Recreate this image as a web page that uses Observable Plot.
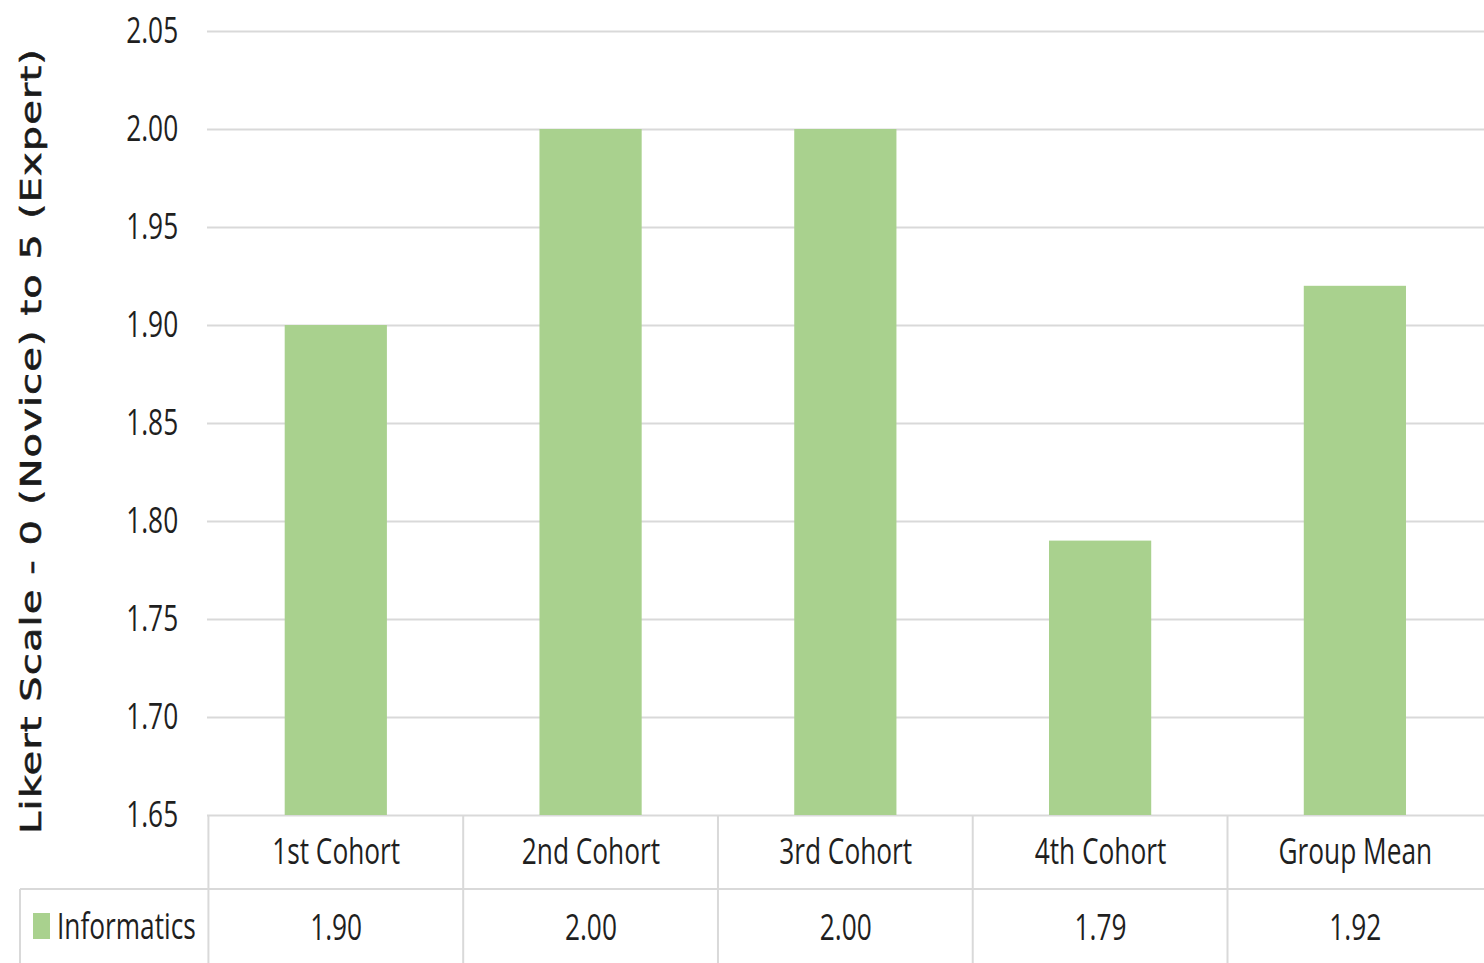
<!DOCTYPE html>
<html><head><meta charset="utf-8">
<script src="https://cdn.jsdelivr.net/npm/d3@7"></script>
<script src="https://cdn.jsdelivr.net/npm/@observablehq/plot@0.6"></script>
<style>
html,body{margin:0;padding:0;background:#fff;overflow:hidden}
#chart svg{display:block}
</style></head>
<body><div id="chart"></div>
<script>
// ---- data ----
const categories = ["1st Cohort", "2nd Cohort", "3rd Cohort", "4th Cohort", "Group Mean"];
const informatics = [1.90, 2.00, 2.00, 1.79, 1.92];
const seriesName = "Informatics";
const yTicks = [1.65, 1.70, 1.75, 1.80, 1.85, 1.90, 1.95, 2.00, 2.05];
const yTitle = "Likert Scale - 0 (Novice) to 5 (Expert)";

const data = categories.map((c, i) => ({category: c, value: informatics[i]}));

// ---- layout ----
const W = 1484, H = 963;
const C = 0.73;              // horizontal squeeze of the original picture
const VW = W / C;            // virtual width
const marginLeft = 207 / C, marginTop = 31, marginBottom = 148;
const font = "'Open Sans', sans-serif";
const textColor = "#1f1f1f";
const gridColor = "#d9d9d9";
const barColor = "#a9d18e";

const plot = Plot.plot({
  width: VW, height: H,
  marginLeft, marginRight: 0, marginTop, marginBottom,
  style: {fontFamily: font, fontSize: "36px", color: textColor, background: "#fff"},
  x: {domain: categories, paddingInner: 0.6, paddingOuter: 0.3, axis: null},
  y: {domain: [yTicks[0], yTicks[yTicks.length - 1]], axis: null},
  marks: [
    Plot.gridY(yTicks, {stroke: gridColor, strokeOpacity: 1, strokeWidth: 2}),
    Plot.barY(data, {x: "category", y1: () => yTicks[0], y2: "value", fill: barColor}),
    Plot.axisY(yTicks, {tickSize: 0, tickPadding: 40, tickFormat: d3.format(".2f"), label: null, fontSize: 36, fill: textColor}),
    Plot.text(categories, {x: d => d, frameAnchor: "bottom", dy: 37, lineAnchor: "middle", fontSize: 36, fill: textColor}),
    Plot.text(data, {x: "category", text: d => d3.format(".2f")(d.value), frameAnchor: "bottom", dy: 113, lineAnchor: "middle", fontSize: 36, fill: textColor})
  ]
});

// squeeze horizontally like the original
const svg = d3.select(plot);
svg.attr("width", W).attr("height", H)
   .attr("viewBox", `0 0 ${VW} ${H}`)
   .attr("preserveAspectRatio", "none")
   .style("width", W + "px").style("height", H + "px").style("max-width", "none");

// ---- data table lines (from Plot's x scale) ----
const xs = plot.scale("x");
const step = xs.step ?? (xs.range[1] - xs.range[0]) / categories.length;
const bw = xs.bandwidth;
const yBottom = H - marginBottom;
const rowMid = yBottom + marginBottom / 2;
const g = svg.append("g").attr("stroke", gridColor).attr("fill", "none");
categories.forEach(c => {
  const left = xs.apply(c) + bw / 2 - step / 2;
  g.append("line").attr("x1", left).attr("x2", left).attr("y1", yBottom).attr("y2", H).attr("stroke-width", 2 / C);
});
g.append("line").attr("x1", 20 / C).attr("x2", VW).attr("y1", rowMid).attr("y2", rowMid).attr("stroke-width", 2);
g.append("line").attr("x1", 20 / C).attr("x2", 20 / C).attr("y1", rowMid).attr("y2", H).attr("stroke-width", 2 / C);

// legend key in the table
const rowCenter = rowMid + marginBottom / 4;
svg.append("rect").attr("x", 33 / C).attr("y", rowCenter - 13).attr("width", 17 / C).attr("height", 26).attr("fill", barColor);
svg.append("text").attr("x", 57 / C).attr("y", rowCenter).attr("dy", "0.35em")
   .attr("text-anchor", "start")
   .attr("font-family", font).attr("font-size", 36).attr("fill", textColor).text(seriesName);

// y axis title
svg.append("text")
   .attr("transform", `translate(${31 / C},${441}) rotate(-90)`)
   .attr("text-anchor", "middle").attr("dy", "0.35em")
   .attr("font-family", "'DejaVu Sans', sans-serif").attr("font-weight", "normal").attr("font-size", 40)
   .attr("letter-spacing", 1.1)
   .attr("fill", "#1a1a1a").attr("stroke", "#1a1a1a").attr("stroke-width", 0.8)
   .text(yTitle);

document.getElementById("chart").appendChild(plot);
</script>
</body></html>
